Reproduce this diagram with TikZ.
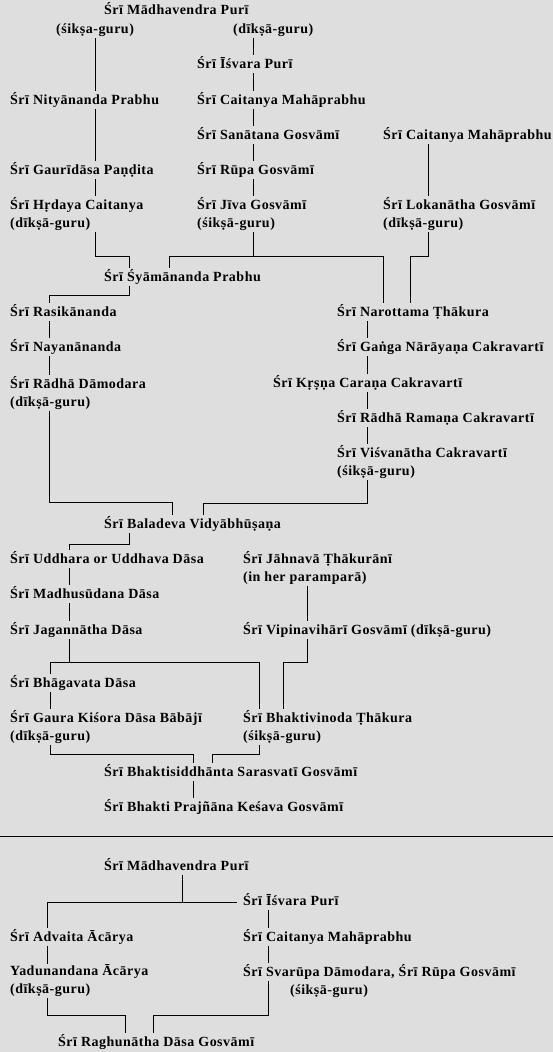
\documentclass[tikz,border=0pt]{standalone}
\usepackage{fontspec}
\setmainfont{Liberation Serif}[LetterSpace=3.5]
\definecolor{bggray}{RGB}{222,222,222}
\tikzset{
  nm/.style={anchor=west,inner xsep=0pt,inner ysep=1pt,text height=12.5pt,text depth=3.5pt},
  nmtwo/.style={anchor=west,inner xsep=0pt,inner ysep=1pt,align=left},
  lnk/.style={draw=black,line width=0.9pt},
}
\begin{document}
\begin{tikzpicture}[x=1pt,y=-1pt,font=\bfseries\fontsize{14}{18}\selectfont]
  \fill[bggray] (0,0) rectangle (553,1052);
  \useasboundingbox (0,0) rectangle (553,1052);
  % upper tree
  \node[nm] (madh1) at (104,10) {Śrī Mādhavendra Purī};
  \node[nm] (sikA) at (56,29) {(śikṣa-guru)};
  \node[nm] (dikA) at (233,29) {(dīkṣā-guru)};
  \node[nm] (isv1) at (197,64) {Śrī Īśvara Purī};
  \node[nm] (nity) at (10,100) {Śrī Nityānanda Prabhu};
  \node[nm] (cai1) at (197,100) {Śrī Caitanya Mahāprabhu};
  \node[nm] (sana) at (197,135) {Śrī Sanātana Gosvāmī};
  \node[nm] (cai2) at (383,135) {Śrī Caitanya Mahāprabhu};
  \node[nm] (gaur) at (10,170) {Śrī Gaurīdāsa Paṇḍita};
  \node[nm] (rupa) at (197,170) {Śrī Rūpa Gosvāmī};
  \node[nmtwo] (hrd) at (10,214) {Śrī Hṛdaya Caitanya\\(dīkṣā-guru)};
  \node[nmtwo] (jiva) at (197,214) {Śrī Jīva Gosvāmī\\(śikṣā-guru)};
  \node[nmtwo] (loka) at (383,214) {Śrī Lokanātha Gosvāmī\\(dīkṣā-guru)};
  \node[nm] (syam) at (104,277) {Śrī Śyāmānanda Prabhu};
  \node[nm] (rasi) at (10,312) {Śrī Rasikānanda};
  \node[nm] (naro) at (337,312) {Śrī Narottama Ṭhākura};
  \node[nm] (naya) at (10,347) {Śrī Nayanānanda};
  \node[nm] (gang) at (337,347) {Śrī Gaṅga Nārāyaṇa Cakravartī};
  \node[nmtwo] (radd) at (10,393) {Śrī Rādhā Dāmodara\\(dīkṣā-guru)};
  \node[nm] (krsn) at (273,383) {Śrī Kṛṣṇa Caraṇa Cakravartī};
  \node[nm] (radr) at (337,418) {Śrī Rādhā Ramaṇa Cakravartī};
  \node[nmtwo] (visv) at (337,462) {Śrī Viśvanātha Cakravartī\\(śikṣā-guru)};
  \node[nm] (bala) at (104,524) {Śrī Baladeva Vidyābhūṣaṇa};
  \node[nm] (uddh) at (10,559) {Śrī Uddhara or Uddhava Dāsa};
  \node[nmtwo] (jahn) at (243,568) {Śrī Jāhnavā Ṭhākurānī\\(in her paramparā)};
  \node[nm] (madhu) at (10,594) {Śrī Madhusūdana Dāsa};
  \node[nm] (jaga) at (10,630) {Śrī Jagannātha Dāsa};
  \node[nm] (vipi) at (243,630) {Śrī Vipinavihārī Gosvāmī (dīkṣā-guru)};
  \node[nm] (bhag) at (10,683) {Śrī Bhāgavata Dāsa};
  \node[nmtwo] (gkis) at (10,727) {Śrī Gaura Kiśora Dāsa Bābājī\\(dīkṣā-guru)};
  \node[nmtwo] (bvin) at (243,727) {Śrī Bhaktivinoda Ṭhākura\\(śikṣā-guru)};
  \node[nm] (bsid) at (104,772) {Śrī Bhaktisiddhānta Sarasvatī Gosvāmī};
  \node[nm] (bpk) at (104,807) {Śrī Bhakti Prajñāna Keśava Gosvāmī};

  \draw[lnk] ([xshift=39pt]sikA.south west) -- ([xshift=85pt]nity.north west);
  \draw[lnk] ([xshift=85pt]nity.south west) -- ([xshift=85pt]gaur.north west);
  \draw[lnk] ([xshift=85pt]gaur.south west) -- ([xshift=85pt]hrd.north west);
  \draw[lnk] ([xshift=20pt]dikA.south west) -- ([xshift=56pt]isv1.north west);
  \draw[lnk] ([xshift=56pt]isv1.south west) -- ([xshift=56pt]cai1.north west);
  \draw[lnk] ([xshift=56pt]cai1.south west) -- ([xshift=56pt]sana.north west);
  \draw[lnk] ([xshift=56pt]sana.south west) -- ([xshift=56pt]rupa.north west);
  \draw[lnk] ([xshift=56pt]rupa.south west) -- ([xshift=56pt]jiva.north west);
  \draw[lnk] ([xshift=45pt]cai2.south west) -- ([xshift=45pt]loka.north west);
  \draw[lnk] ([xshift=85pt]hrd.south west) -- ++(0,25) -| ([xshift=25pt]syam.north west);
  \draw[lnk] ([xshift=56pt]jiva.south west) -- ++(0,25) coordinate (jb) -| ([xshift=65pt]syam.north west);
  \draw[lnk] (jb) -| ([xshift=46pt]naro.north west);
  \draw[lnk] ([xshift=45pt]loka.south west) -- ++(0,25) -| ([xshift=73pt]naro.north west);
  \draw[lnk] ([xshift=25pt]syam.south west) -- ++(0,9.5) -| ([xshift=39pt]rasi.north west);
  \draw[lnk] ([xshift=39pt]rasi.south west) -- ([xshift=39pt]naya.north west);
  \draw[lnk] ([xshift=39pt]naya.south west) -- ([xshift=39pt]radd.north west);
  \draw[lnk] ([xshift=39pt]radd.south west) -- ++(0,92) -| ([xshift=68pt]bala.north west);
  \draw[lnk] ([xshift=30pt]naro.south west) -- ([xshift=30pt]gang.north west);
  \draw[lnk] ([xshift=30pt]gang.south west) -- ([xshift=94pt]krsn.north west);
  \draw[lnk] ([xshift=94pt]krsn.south west) -- ([xshift=30pt]radr.north west);
  \draw[lnk] ([xshift=30pt]radr.south west) -- ([xshift=30pt]visv.north west);
  \draw[lnk] ([xshift=30pt]visv.south west) -- ++(0,23.25) -| ([xshift=99pt]bala.north west);
  \draw[lnk] ([xshift=25pt]bala.south west) -- ++(0,11) -| ([xshift=59pt]uddh.north west);
  \draw[lnk] ([xshift=59pt]uddh.south west) -- ([xshift=59pt]madhu.north west);
  \draw[lnk] ([xshift=59pt]madhu.south west) -- ([xshift=59pt]jaga.north west);
  \draw[lnk] ([xshift=59pt]jaga.south west) -- ++(0,23.25) coordinate (gb) -| ([xshift=40pt]bhag.north west);
  \draw[lnk] (gb) -| ([xshift=16pt]bvin.north west);
  \draw[lnk] ([xshift=64pt]jahn.south west) -- ([xshift=64pt]vipi.north west);
  \draw[lnk] ([xshift=64pt]vipi.south west) -- ++(0,23.25) -| ([xshift=40pt]bvin.north west);
  \draw[lnk] ([xshift=40pt]bhag.south west) -- ([xshift=40pt]gkis.north west);
  \draw[lnk] ([xshift=40pt]gkis.south west) -- ++(0,10) -| ([xshift=89pt]bsid.north west);
  \draw[lnk] ([xshift=16pt]bvin.south west) -- ++(0,10) -| ([xshift=108pt]bsid.north west);
  \draw[lnk] ([xshift=89pt]bsid.south west) -- ([xshift=89pt]bpk.north west);

  \draw[lnk] (0,836) -- (553,836);

  % lower tree
  \node[nm] (madh2) at (104,866) {Śrī Mādhavendra Purī};
  \node[nm] (isv2) at (243,901) {Śrī Īśvara Purī};
  \node[nm] (adva) at (10,937) {Śrī Advaita Ācārya};
  \node[nm] (cai3) at (243,937) {Śrī Caitanya Mahāprabhu};
  \node[nmtwo] (yadu) at (10,981) {Yadunandana Ācārya\\(dīkṣā-guru)};
  \node[nmtwo] (svar) at (243,981) {Śrī Svarūpa Dāmodara, Śrī Rūpa Gosvāmī\\\hspace*{47pt}(śikṣā-guru)};
  \node[nm] (ragh) at (58,1042) {Śrī Raghunātha Dāsa Gosvāmī};

  \draw[lnk] ([xshift=78pt]madh2.south west) -- ++(0,27) coordinate (mb) -| ([xshift=37pt]adva.north west);
  \draw[lnk,shorten >=6pt] (mb) -- (mb -| isv2.west);
  \draw[lnk] ([xshift=25pt]isv2.south west) -- ([xshift=25pt]cai3.north west);
  \draw[lnk] ([xshift=25pt]cai3.south west) -- ([xshift=25pt]svar.north west);
  \draw[lnk] ([xshift=37pt]adva.south west) -- ([xshift=37pt]yadu.north west);
  \draw[lnk] ([xshift=37pt]yadu.south west) -- ++(0,17) -| ([xshift=67pt]ragh.north west);
  \draw[lnk] ([xshift=25pt]svar.west) -- ++(0,34) -| ([xshift=95pt]ragh.north west);
\end{tikzpicture}
\end{document}
